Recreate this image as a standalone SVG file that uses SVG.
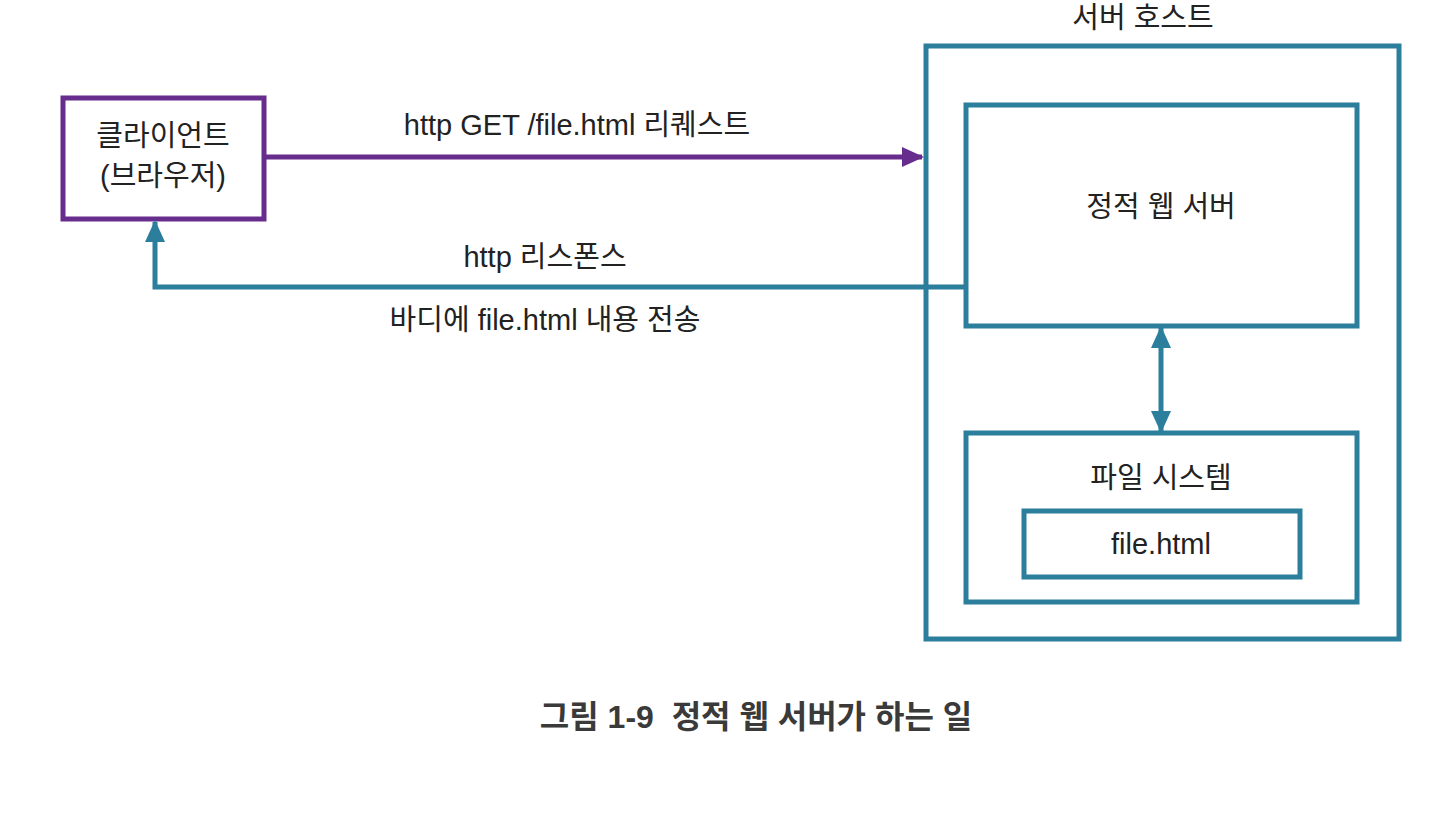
<svg xmlns="http://www.w3.org/2000/svg" width="1440" height="819" viewBox="0 0 1440 819">
<style>
text{font-family:"Liberation Sans","Noto Sans CJK KR",sans-serif;fill:#222;text-anchor:middle}
.t{font-size:29px}
.teal{fill:none;stroke:#2b7f9c;stroke-width:5}
.purple{fill:none;stroke:#662d8c;stroke-width:5}
</style>
<defs>
<marker id="at" markerWidth="22" markerHeight="20" refX="20" refY="10" orient="auto-start-reverse" markerUnits="userSpaceOnUse"><path d="M0,0 L22,10 L0,20 Z" fill="#2b7f9c"/></marker>
<marker id="ap2" markerWidth="22" markerHeight="20" refX="20" refY="10" orient="auto" markerUnits="userSpaceOnUse"><path d="M0,0 L22,10 L0,20 Z" fill="#662d8c"/></marker>
</defs>
<rect width="1440" height="819" fill="#fff"/>
<g id="client">
<rect class="purple" x="63" y="98" width="201" height="121"/>
<text class="t" x="163" y="146">클라이언트</text>
<text class="t" x="163" y="186">(브라우저)</text>
</g>
<g id="server-host">
<rect class="teal" x="926" y="46" width="473" height="593" stroke-width="6"/>
<text class="t" x="1143" y="28">서버 호스트</text>
</g>
<g id="static-web-server">
<rect class="teal" x="966" y="105" width="391" height="221"/>
<text class="t" x="1161" y="217">정적 웹 서버</text>
</g>
<g id="file-system">
<rect class="teal" x="966" y="433" width="391" height="169"/>
<text class="t" x="1161" y="488">파일 시스템</text>
</g>
<g id="file-html">
<rect class="teal" x="1024" y="511" width="276" height="66"/>
<text class="t" x="1161" y="554">file.html</text>
</g>
<g id="connectors">
<path class="purple" d="M264,157 L922,157" marker-end="url(#ap2)"/>
<text class="t" x="577" y="135">http GET /file.html 리퀘스트</text>
<path class="teal" d="M966,287 L155,287 L155,222" marker-end="url(#at)"/>
<text class="t" x="545" y="267">http 리스폰스</text>
<text class="t" x="545" y="330">바디에 file.html 내용 전송</text>
<path class="teal" d="M1161,328 L1161,431" marker-start="url(#at)" marker-end="url(#at)"/>
</g>
<text x="756" y="728" xml:space="preserve" style="font-size:32px;font-weight:bold;fill:#3a3a3a">그림 1-9  정적 웹 서버가 하는 일</text>
</svg>
